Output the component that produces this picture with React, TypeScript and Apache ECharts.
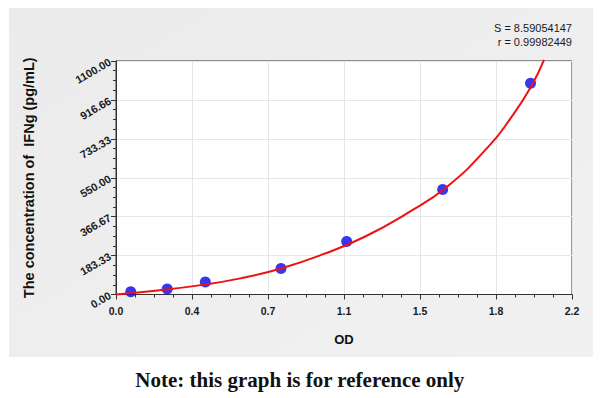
import React, { useEffect, useRef } from "react";
import * as echarts from "echarts";

// Standard points (OD, concentration pg/mL)
const standardOD = [0.071, 0.247, 0.431, 0.796, 1.113, 1.576, 2.0];
const standardConc = [13, 26, 59, 123, 250, 495, 995];

// Fitted curve
const curveOD = [0, 0.2, 0.4, 0.6, 0.8, 1.0, 1.2, 1.4, 1.6, 1.8, 1.9, 2.0, 2.065];
const curveConc = [0, 19, 43, 76, 124, 190, 272, 380, 510, 700, 825, 975, 1105];

const xTickLabels = ["0.0", "0.4", "0.7", "1.1", "1.5", "1.8", "2.2"];
const yTickLabels = ["0.00", "183.33", "366.67", "550.00", "733.33", "916.66", "1100.00"];

const statS = "S = 8.59054147";
const statR = "r = 0.99982449";
const yTitle = "The concentration of  IFNg (pg/mL)";
const xTitle = "OD";
const noteText = "Note: this graph is for reference only";

const X_MAX = 2.2;
const Y_MAX = 1100;

export default function App() {
  const ref = useRef<HTMLDivElement>(null);

  useEffect(() => {
    if (!ref.current) return;
    const chart = echarts.init(ref.current, null, { renderer: "svg" });
    const xStep = X_MAX / 6;
    const yStep = Y_MAX / 6;
    const labelFont = {
      fontFamily: "Liberation Sans, Arial, sans-serif",
      fontWeight: "bold" as const,
      color: "#1a1a1a",
    };
    chart.setOption({
      animation: false,
      backgroundColor: "#ffffff",
      graphic: [
        {
          type: "rect",
          z: -10,
          silent: true,
          shape: { x: 9, y: 8, width: 584, height: 349 },
          style: {
            fill: new echarts.graphic.LinearGradient(0, 0, 1, 1, [
              { offset: 0, color: "#ebebeb" },
              { offset: 1, color: "#f1f1f1" },
            ]),
          },
        },
        {
          type: "text",
          right: 28,
          top: 22,
          style: {
            text: statS,
            font: "11px 'Liberation Sans', Arial, sans-serif",
            fill: "#1a1a1a",
            textAlign: "right",
          },
        },
        {
          type: "text",
          right: 28,
          top: 36,
          style: {
            text: statR,
            font: "11px 'Liberation Sans', Arial, sans-serif",
            fill: "#1a1a1a",
            textAlign: "right",
          },
        },
        {
          type: "text",
          left: "center",
          top: 369,
          style: {
            text: noteText,
            font: "bold 21px 'Liberation Serif', 'DejaVu Serif', serif",
            fill: "#111111",
          },
        },
      ],
      grid: {
        left: 116,
        right: 28,
        top: 61,
        bottom: 103.5,
        show: true,
        backgroundColor: "#ffffff",
        borderColor: "#333333",
        borderWidth: 1,
      },
      xAxis: {
        type: "value",
        min: 0,
        max: X_MAX,
        interval: xStep,
        name: xTitle,
        nameLocation: "middle",
        nameGap: 38,
        nameTextStyle: {
          fontFamily: "Liberation Sans, Arial, sans-serif",
          fontWeight: "bold",
          fontSize: 13,
          color: "#111",
        },
        axisLine: { show: true, onZero: false, lineStyle: { color: "#333", width: 1 } },
        axisTick: { show: true, inside: false, length: 5, lineStyle: { color: "#333" } },
        minorTick: { show: true, splitNumber: 4, length: 3, lineStyle: { color: "#333" } },
        splitLine: { show: true, lineStyle: { color: "#e6e6e6", width: 1 } },
        axisLabel: {
          ...labelFont,
          fontSize: 10.5,
          margin: 11,
          formatter: (v: number) => xTickLabels[Math.round(v / xStep)] ?? "",
        },
      },
      yAxis: {
        type: "value",
        min: 0,
        max: Y_MAX,
        interval: yStep,
        name: yTitle,
        nameLocation: "middle",
        nameRotate: 90,
        nameGap: 80,
        nameTextStyle: {
          fontFamily: "Liberation Sans, Arial, sans-serif",
          fontWeight: "bold",
          fontSize: 14.5,
          color: "#111",
        },
        axisLine: { show: true, onZero: false, lineStyle: { color: "#333", width: 1 } },
        axisTick: { show: true, inside: false, length: 5, lineStyle: { color: "#333" } },
        minorTick: { show: true, splitNumber: 4, length: 3, lineStyle: { color: "#333" } },
        splitLine: { show: true, lineStyle: { color: "#e6e6e6", width: 1 } },
        axisLabel: {
          ...labelFont,
          fontSize: 11,
          rotate: 30,
          margin: 6,
          formatter: (v: number) => yTickLabels[Math.round(v / yStep)] ?? "",
        },
      },
      series: [
        {
          type: "scatter",
          z: 2,
          symbol: "circle",
          symbolSize: 11,
          itemStyle: { color: "#0505ee" },
          data: standardOD.map((x, i) => [x, standardConc[i]]),
        },
        {
          type: "line",
          z: 3,
          smooth: 0.5,
          clip: false,
          showSymbol: false,
          symbol: "none",
          lineStyle: { color: "#ee1111", width: 2 },
          data: curveOD.map((x, i) => [x, curveConc[i]]),
        },
      ],
    });
    return () => chart.dispose();
  }, []);

  return (
    <div
      ref={ref}
      style={{ position: "absolute", left: 0, top: 0, width: 600, height: 398 }}
    />
  );
}
